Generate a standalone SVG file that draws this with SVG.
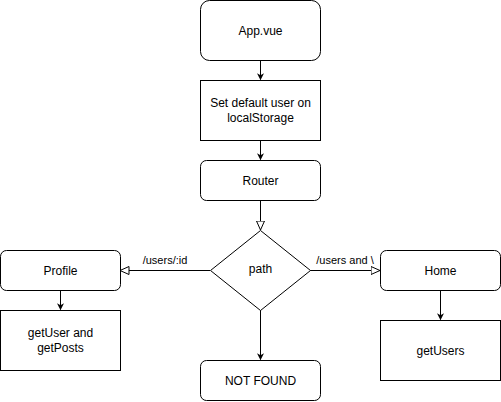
<svg xmlns="http://www.w3.org/2000/svg" width="501" height="402" viewBox="0 0 501 402">
<defs>
<marker id="filled" viewBox="0 0 10 10" refX="9" refY="5" markerWidth="7" markerHeight="7" markerUnits="userSpaceOnUse" orient="auto"><path d="M0,0 L10,5 L0,10 L3,5 Z" fill="#000"/></marker>
<marker id="open" viewBox="0 0 10 10" refX="9.5" refY="5" markerWidth="10" markerHeight="10" markerUnits="userSpaceOnUse" orient="auto"><path d="M0.5,1 L9.5,5 L0.5,9 Z" fill="#fff" stroke="#000" stroke-width="1"/></marker>
<style>
.box{fill:#fff;stroke:#000;stroke-width:1}
.lbl{font-family:"Liberation Sans",Arial,sans-serif;font-size:12px;fill:#000;text-anchor:middle}
.edge{font-family:"Liberation Sans",Arial,sans-serif;font-size:11px;fill:#000;text-anchor:middle}
.ln{fill:none;stroke:#000;stroke-width:1}
</style>
</defs>
<rect width="501" height="402" fill="#fff"/>
<g id="connectors">
<path class="ln" d="M260.5,60 V79.5" marker-end="url(#filled)"/>
<path class="ln" d="M260.5,140 V159.5" marker-end="url(#filled)"/>
<path class="ln" d="M260.5,200 V230" marker-end="url(#open)"/>
<path class="ln" d="M210,270.5 H120" marker-end="url(#open)"/>
<path class="ln" d="M310,270.5 H380" marker-end="url(#open)"/>
<path class="ln" d="M60.5,290 V309.5" marker-end="url(#filled)"/>
<path class="ln" d="M440.5,290 V319.5" marker-end="url(#filled)"/>
<path class="ln" d="M260.5,310 V359.5" marker-end="url(#filled)"/>
<text class="edge" x="165" y="264">/users/:id</text>
<text class="edge" x="345" y="264">/users and \</text>
</g>
<g id="app"><rect class="box" x="200.5" y="0.5" width="120" height="60" rx="9"/><text class="lbl" x="260.5" y="34.5">App.vue</text></g>
<g id="setdefault"><rect class="box" x="200.5" y="80.5" width="120" height="60"/><text class="lbl" x="260.5" y="107">Set default user on</text><text class="lbl" x="260.5" y="122">localStorage</text></g>
<g id="router"><rect class="box" x="200.5" y="160.5" width="120" height="40" rx="6"/><text class="lbl" x="260.5" y="184.5">Router</text></g>
<g id="path"><path class="box" d="M260.5,230.5 L310.5,270.5 L260.5,310.5 L210.5,270.5 Z"/><text class="lbl" x="260.5" y="272.5">path</text></g>
<g id="profile"><rect class="box" x="0.5" y="250.5" width="120" height="40" rx="6"/><text class="lbl" x="60.5" y="274.5">Profile</text></g>
<g id="getuser"><rect class="box" x="0.5" y="310.5" width="120" height="60"/><text class="lbl" x="60.5" y="337">getUser and</text><text class="lbl" x="60.5" y="352">getPosts</text></g>
<g id="home"><rect class="box" x="380.5" y="250.5" width="120" height="40" rx="6"/><text class="lbl" x="440.5" y="274.5">Home</text></g>
<g id="getusers"><rect class="box" x="380.5" y="320.5" width="120" height="60"/><text class="lbl" x="440.5" y="354.5">getUsers</text></g>
<g id="notfound"><rect class="box" x="200.5" y="360.5" width="120" height="40" rx="6"/><text class="lbl" x="260.5" y="384.5">NOT FOUND</text></g>
</svg>
